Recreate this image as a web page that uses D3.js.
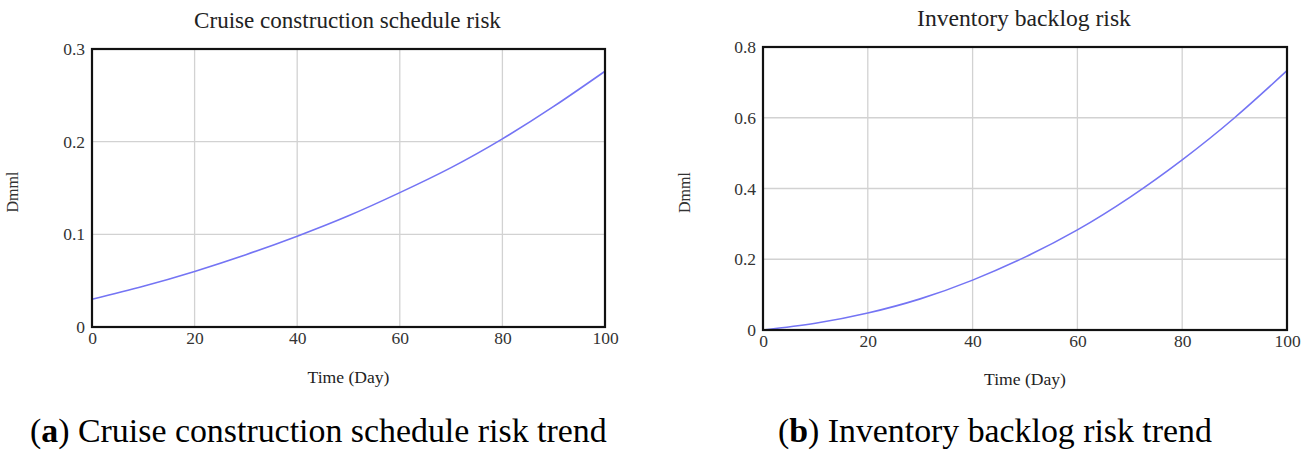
<!DOCTYPE html>
<html>
<head>
<meta charset="utf-8">
<script src="https://cdn.jsdelivr.net/npm/d3@7"></script>
<style>
  body { margin: 0; background: #fff; }
  text { font-family: "Liberation Serif", "Times New Roman", serif; }
</style>
</head>
<body>
<div id="chart"></div>
<script>
// data
const days = [0, 10, 20, 30, 40, 50, 60, 70, 80, 90, 100];
const scheduleRisk = [0.030, 0.044, 0.060, 0.078, 0.098, 0.120, 0.145, 0.172, 0.203, 0.238, 0.276];
const backlogRisk = [0, 0.019, 0.048, 0.088, 0.141, 0.206, 0.283, 0.375, 0.481, 0.600, 0.733];
const xTicks = [0, 20, 40, 60, 80, 100];
const scheduleTicks = [0, 0.1, 0.2, 0.3];
const backlogTicks = [0, 0.2, 0.4, 0.6, 0.8];

const W = 1313, H = 452;

const svg = d3.select("#chart").append("svg")
    .attr("width", W)
    .attr("height", H);

// shrink/grow font so text spans a given width
function fitText(sel, width) {
    const w = sel.node().getComputedTextLength();
    const fs = parseFloat(sel.style("font-size"));
    sel.style("font-size", (fs * width / w) + "px");
}

const panels = [
    {
        title: "Cruise construction schedule risk",
        values: scheduleRisk, yMax: 0.3, yTicks: scheduleTicks,
        box: { left: 92, right: 605, top: 49, bottom: 327 },
        titleX: [194, 501], titleY: 28,
        ylabX: 18, xlabY: 383, xlabW: 82,
        caption: ["a", ") Cruise construction schedule risk trend"], capX: [30, 607]
    },
    {
        title: "Inventory backlog risk",
        values: backlogRisk, yMax: 0.8, yTicks: backlogTicks,
        box: { left: 763, right: 1287, top: 47, bottom: 330 },
        titleX: [917, 1131], titleY: 26,
        ylabX: 690, xlabY: 385, xlabW: 82,
        caption: ["b", ") Inventory backlog risk trend"], capX: [778, 1212]
    }
];

panels.forEach(p => {
    const b = p.box;
    const x = d3.scaleLinear().domain([0, 100]).range([b.left, b.right]);
    const y = d3.scaleLinear().domain([0, p.yMax]).range([b.bottom, b.top]);
    const g = svg.append("g");

    // grid
    g.append("g").selectAll("line").data(xTicks.slice(1, -1)).join("line")
        .attr("x1", d => x(d)).attr("x2", d => x(d))
        .attr("y1", b.top).attr("y2", b.bottom)
        .attr("stroke", "#d2d2d2").attr("stroke-width", 1.3);
    g.append("g").selectAll("line").data(p.yTicks.slice(1, -1)).join("line")
        .attr("y1", d => y(d)).attr("y2", d => y(d))
        .attr("x1", b.left).attr("x2", b.right)
        .attr("stroke", "#d2d2d2").attr("stroke-width", 1.3);

    // curve
    const line = d3.line()
        .x((d, i) => x(days[i]))
        .y(d => y(d))
        .curve(d3.curveNatural);
    g.append("path")
        .datum(p.values)
        .attr("fill", "none")
        .attr("stroke", "#7474f4")
        .attr("stroke-width", 1.6)
        .attr("d", line);

    // frame
    g.append("rect")
        .attr("x", b.left).attr("y", b.top)
        .attr("width", b.right - b.left).attr("height", b.bottom - b.top)
        .attr("fill", "none").attr("stroke", "#111").attr("stroke-width", 2.2);

    // axes (labels only)
    const xAxis = g.append("g")
        .attr("transform", `translate(0,${b.bottom})`)
        .call(d3.axisBottom(x).tickValues(xTicks).tickSize(0).tickPadding(5).tickFormat(d3.format("d")));
    const yAxis = g.append("g")
        .attr("transform", `translate(${b.left},0)`)
        .call(d3.axisLeft(y).tickValues(p.yTicks).tickSize(0).tickPadding(7).tickFormat(d => d === 0 ? "0" : d3.format(".1f")(d)));
    [xAxis, yAxis].forEach(a => {
        a.select(".domain").remove();
        a.selectAll("text")
            .style("font-family", '"Liberation Serif", serif')
            .style("font-size", "17.5px")
            .style("fill", "#333");
    });

    // title
    const t = g.append("text")
        .attr("x", (p.titleX[0] + p.titleX[1]) / 2).attr("y", p.titleY)
        .attr("text-anchor", "middle").style("font-size", "18px").style("fill", "#222")
        .text(p.title);
    fitText(t, p.titleX[1] - p.titleX[0]);

    // axis titles
    g.append("text")
        .attr("transform", `translate(${p.ylabX},${(b.top + b.bottom) / 2 + 4}) rotate(-90)`)
        .attr("text-anchor", "middle").style("font-size", "16px").style("fill", "#333")
        .text("Dmml");
    const xl = g.append("text")
        .attr("x", (b.left + b.right) / 2).attr("y", p.xlabY)
        .attr("text-anchor", "middle").style("font-size", "17px").style("fill", "#222")
        .text("Time (Day)");
    fitText(xl, p.xlabW);

    // caption
    const cap = g.append("text")
        .attr("x", p.capX[0]).attr("y", 442)
        .style("font-size", "28px").style("fill", "#000");
    cap.append("tspan").text("(");
    cap.append("tspan").style("font-weight", "bold").text(p.caption[0]);
    cap.append("tspan").text(p.caption[1]);
    fitText(cap, p.capX[1] - p.capX[0]);
});
</script>
</body>
</html>
